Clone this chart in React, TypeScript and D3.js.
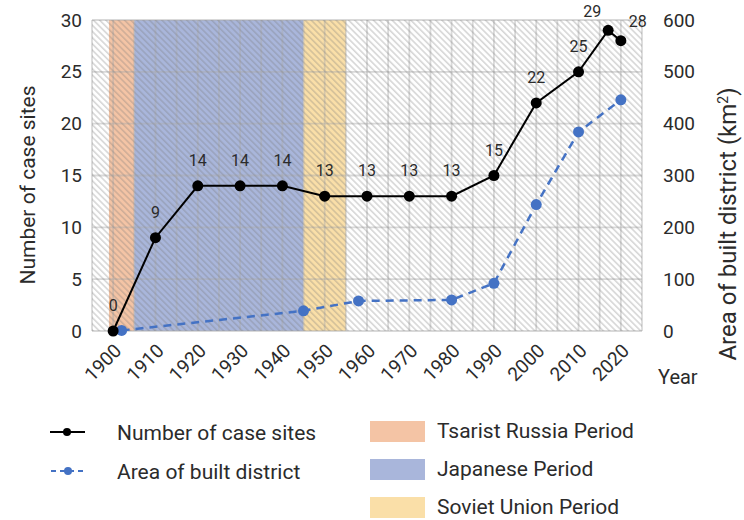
import React, { useRef, useEffect } from 'react';
import * as d3 from 'd3';

const tickYears = [1900, 1910, 1920, 1930, 1940, 1950, 1960, 1970, 1980, 1990, 2000, 2010, 2020];
const siteYears = [1900, 1910, 1920, 1930, 1940, 1950, 1960, 1970, 1980, 1990, 2000, 2010, 2017, 2020];
const siteCounts = [0, 9, 14, 14, 14, 13, 13, 13, 13, 15, 22, 25, 29, 28];
const areaYears = [1902, 1945, 1958, 1980, 1990, 2000, 2010, 2020];
const areaValues = [1, 39, 58, 60, 92, 244, 384, 446];
const periodNames = ['Tsarist Russia Period', 'Japanese Period', 'Soviet Union Period'];
const periodStarts = [1899, 1905, 1945];
const periodEnds = [1905, 1945, 1955];
const leftTicks = [0, 5, 10, 15, 20, 25, 30];
const rightTicks = [0, 100, 200, 300, 400, 500, 600];

const periodColors = ['#f4c4a5', '#a9b6db', '#fadfa8'];
const width = 744;
const height = 520;
const margin = { top: 20, right: 102, bottom: 189, left: 92 };
const font = 'Roboto, "DejaVu Sans", sans-serif';
const textColor = '#2b2b2b';

const App: React.FC = () => {
  const ref = useRef<SVGSVGElement>(null);

  useEffect(() => {
    const svg = d3.select(ref.current);
    svg.selectAll('*').remove();

    const x = d3.scaleLinear().domain([1895, 2025]).range([margin.left, width - margin.right]);
    const yL = d3.scaleLinear().domain([0, 30]).range([height - margin.bottom, margin.top]);
    const yR = d3.scaleLinear().domain([0, 600]).range([height - margin.bottom, margin.top]);
    const x0 = x.range()[0];
    const x1 = x.range()[1];
    const yb = yL.range()[0];
    const yt = yL.range()[1];

    const defs = svg.append('defs');
    const pat = defs
      .append('pattern')
      .attr('id', 'hatch')
      .attr('patternUnits', 'userSpaceOnUse')
      .attr('width', 4.4)
      .attr('height', 4.4)
      .attr('patternTransform', 'rotate(45)');
    pat
      .append('line')
      .attr('x1', 0)
      .attr('x2', 4.4)
      .attr('y1', 1)
      .attr('y2', 1)
      .attr('stroke', 'rgba(120,120,120,0.3)')
      .attr('stroke-width', 1.6);

    // plot background + periods
    svg.append('rect').attr('x', x0).attr('y', yt).attr('width', x1 - x0).attr('height', yb - yt).attr('fill', '#fff');
    svg
      .append('g')
      .selectAll('rect')
      .data(periodNames)
      .join('rect')
      .attr('x', (d, i) => x(periodStarts[i]))
      .attr('y', yt)
      .attr('width', (d, i) => x(periodEnds[i]) - x(periodStarts[i]))
      .attr('height', yb - yt)
      .attr('fill', (d, i) => periodColors[i]);

    // gridlines
    const grid = svg.append('g').attr('stroke', 'rgba(170,170,170,0.45)').attr('stroke-width', 1.8);
    grid
      .selectAll('line.v')
      .data(d3.range(1895, 2026, 5))
      .join('line')
      .attr('class', 'v')
      .attr('x1', (d) => x(d))
      .attr('x2', (d) => x(d))
      .attr('y1', yt)
      .attr('y2', yb);
    grid
      .selectAll('line.h')
      .data(leftTicks)
      .join('line')
      .attr('class', 'h')
      .attr('x1', x0)
      .attr('x2', x1)
      .attr('y1', (d) => yL(d))
      .attr('y2', (d) => yL(d));

    svg.append('rect').attr('x', x0).attr('y', yt).attr('width', x1 - x0).attr('height', yb - yt).attr('fill', 'url(#hatch)');

    // left axis
    const axisL = svg
      .append('g')
      .attr('transform', `translate(${x0 - 10},0)`)
      .call(d3.axisLeft(yL).tickValues(leftTicks).tickSize(0).tickPadding(0));
    axisL.select('.domain').remove();
    axisL.selectAll('text').attr('font-size', 19).attr('font-family', font).attr('fill', textColor);

    const axisR = svg
      .append('g')
      .attr('transform', `translate(${x1 + 21},0)`)
      .call(d3.axisRight(yR).tickValues(rightTicks).tickSize(0).tickPadding(0));
    axisR.select('.domain').remove();
    axisR.selectAll('text').attr('font-size', 19).attr('font-family', font).attr('fill', textColor);

    const axisB = svg
      .append('g')
      .attr('transform', `translate(0,${yb})`)
      .call(d3.axisBottom(x).tickValues(tickYears).tickFormat(d3.format('d')).tickSize(0).tickPadding(0));
    axisB.select('.domain').remove();
    axisB
      .selectAll('text')
      .attr('font-size', 19)
      .attr('font-family', font)
      .attr('fill', textColor)
      .attr('text-anchor', 'end')
      .attr('dy', null)
      .attr('y', 0)
      .attr('transform', 'translate(9,21) rotate(-45)');

    // axis titles
    svg
      .append('text')
      .attr('transform', `translate(35,185) rotate(-90)`)
      .attr('text-anchor', 'middle')
      .attr('font-size', 21)
      .attr('font-family', font)
      .attr('fill', textColor)
      .text('Number of case sites');
    const rt = svg
      .append('text')
      .attr('transform', `translate(736,224) rotate(-90)`)
      .attr('text-anchor', 'middle')
      .attr('font-size', 24)
      .attr('font-family', font)
      .attr('fill', textColor);
    rt.append('tspan').text('Area of built district (km');
    rt.append('tspan').attr('baseline-shift', 'super').attr('font-size', 14).text('2');
    rt.append('tspan').text(')');
    svg
      .append('text')
      .attr('x', 658)
      .attr('y', 384)
      .attr('font-size', 20)
      .attr('font-family', font)
      .attr('fill', textColor)
      .text('Year');

    // area series
    const areaPts = areaYears.map((yr, i) => [x(yr), yR(areaValues[i])] as [number, number]);
    svg
      .append('path')
      .attr('d', d3.line()(areaPts))
      .attr('fill', 'none')
      .attr('stroke', '#4472c4')
      .attr('stroke-width', 2.5)
      .attr('stroke-dasharray', '8,6');
    svg
      .append('g')
      .selectAll('circle')
      .data(areaPts)
      .join('circle')
      .attr('cx', (d) => d[0])
      .attr('cy', (d) => d[1])
      .attr('r', 5.5)
      .attr('fill', '#4472c4');

    // sites series
    const sitePts = siteYears.map((yr, i) => [x(yr), yL(siteCounts[i])] as [number, number]);
    svg
      .append('path')
      .attr('d', d3.line()(sitePts))
      .attr('fill', 'none')
      .attr('stroke', '#000')
      .attr('stroke-width', 2);
    svg
      .append('g')
      .selectAll('circle')
      .data(sitePts)
      .join('circle')
      .attr('cx', (d) => d[0])
      .attr('cy', (d) => d[1])
      .attr('r', 5.5)
      .attr('fill', '#000');

    const n = siteCounts.length;
    svg
      .append('g')
      .selectAll('text')
      .data(siteCounts)
      .join('text')
      .attr('x', (d, i) => sitePts[i][0] + (i === n - 2 ? -16 : i === n - 1 ? 17 : 0))
      .attr('y', (d, i) => sitePts[i][1] + (i === n - 2 ? -13 : i === n - 1 ? -14 : -20))
      .attr('text-anchor', 'middle')
      .attr('font-size', 16)
      .attr('font-family', font)
      .attr('fill', textColor)
      .text((d) => d);

    // legend
    const lg = svg.append('g').attr('font-family', font).attr('font-size', 21).attr('fill', textColor);
    lg.append('line').attr('x1', 50).attr('x2', 85).attr('y1', 432).attr('y2', 432).attr('stroke', '#000').attr('stroke-width', 2);
    lg.append('circle').attr('cx', 67).attr('cy', 432).attr('r', 4).attr('fill', '#000');
    lg.append('text').attr('x', 117).attr('y', 439.5).text('Number of case sites');
    lg.append('line')
      .attr('x1', 51)
      .attr('x2', 86)
      .attr('y1', 471)
      .attr('y2', 471)
      .attr('stroke', '#4472c4')
      .attr('stroke-width', 2)
      .attr('stroke-dasharray', '5,4');
    lg.append('circle').attr('cx', 68).attr('cy', 471).attr('r', 4).attr('fill', '#4472c4');
    lg.append('text').attr('x', 117).attr('y', 478.5).text('Area of built district');

    const pl = lg
      .selectAll('g.p')
      .data(periodNames)
      .join('g')
      .attr('class', 'p')
      .attr('transform', (d, i) => `translate(370,${421 + i * 38})`);
    pl.append('rect').attr('width', 55).attr('height', 21).attr('fill', (d, i) => periodColors[i]);
    pl.append('text').attr('x', 67).attr('y', 17).text((d) => d);
  }, []);

  return (
    <svg
      ref={ref}
      width={width}
      height={height}
      style={{ position: 'absolute', left: 0, top: 0, background: '#fff' }}
    />
  );
};

export default App;
